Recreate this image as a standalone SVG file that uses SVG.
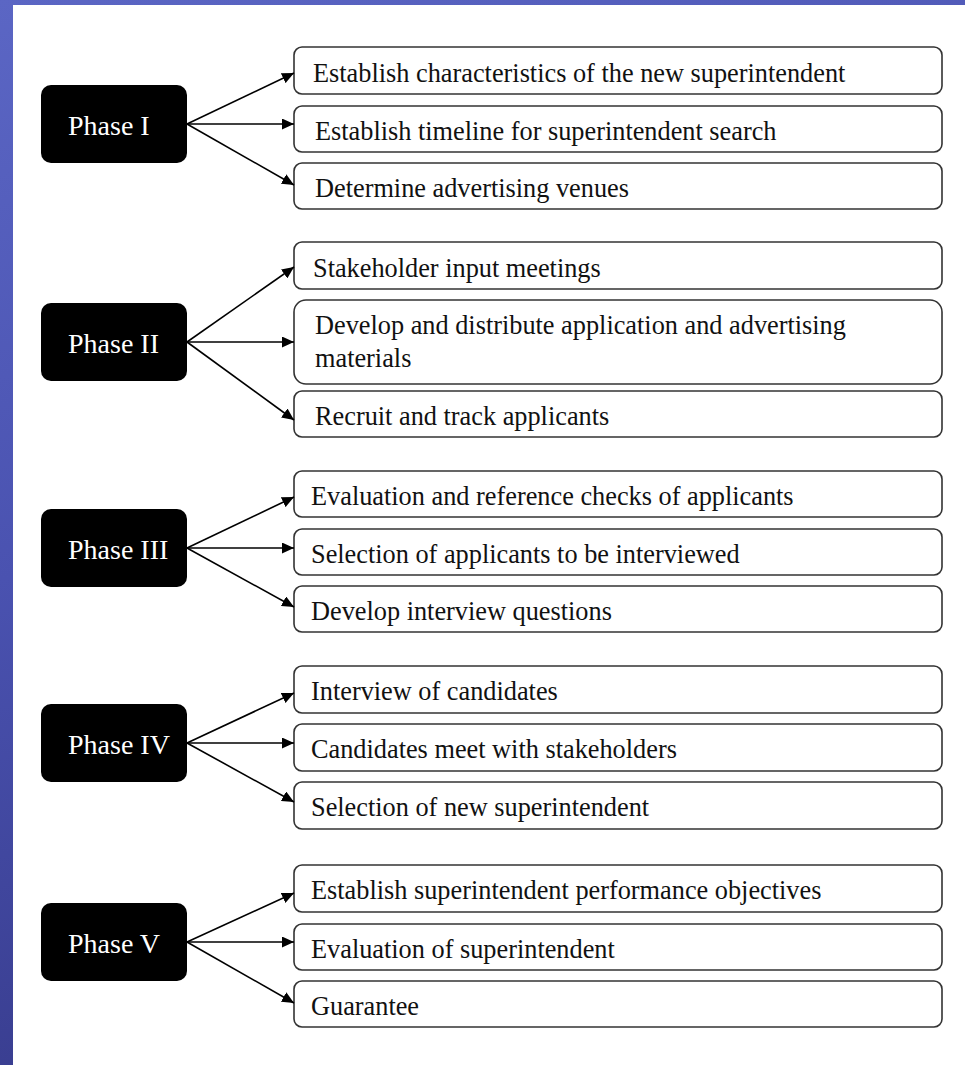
<svg xmlns="http://www.w3.org/2000/svg" width="965" height="1065" viewBox="0 0 965 1065">
<defs>
<linearGradient id="bg" x1="0" y1="0" x2="0.3" y2="1">
<stop offset="0" stop-color="#5b66c4"/>
<stop offset="0.5" stop-color="#4a52b0"/>
<stop offset="1" stop-color="#373b8c"/>
</linearGradient>
<marker id="ah" viewBox="0 0 10 10" refX="10" refY="5" markerWidth="12" markerHeight="11" markerUnits="userSpaceOnUse" orient="auto" preserveAspectRatio="none">
<path d="M0,0 L10,5 L0,10 z" fill="#000"/>
</marker>
<style>
.ph rect{fill:#000;}
.ph text{fill:#fff;font-family:"Liberation Serif","DejaVu Serif",serif;font-size:28px;}
.st rect{fill:#fff;stroke:#333;stroke-width:1.6;}
.st text{fill:#111;font-family:"Liberation Serif","DejaVu Serif",serif;font-size:26.3px;}
#connectors line{stroke:#000;stroke-width:1.6;marker-end:url(#ah);}
</style>
</defs>
<rect x="0" y="0" width="965" height="1065" fill="url(#bg)"/>
<rect x="13" y="5" width="952" height="1060" fill="#fff"/>

<g id="phase1" class="ph"><rect x="41" y="85" width="146" height="78" rx="10"/><text x="68" y="135">Phase I</text></g>
<g id="phase2" class="ph"><rect x="41" y="303" width="146" height="78" rx="10"/><text x="68" y="353">Phase II</text></g>
<g id="phase3" class="ph"><rect x="41" y="509" width="146" height="78" rx="10"/><text x="68" y="559">Phase III</text></g>
<g id="phase4" class="ph"><rect x="41" y="704" width="146" height="78" rx="10"/><text x="68" y="754">Phase IV</text></g>
<g id="phase5" class="ph"><rect x="41" y="903" width="146" height="78" rx="10"/><text x="68" y="953">Phase V</text></g>

<g id="s1a" class="st"><rect x="294" y="47" width="648" height="47" rx="8"/><text x="313" y="82">Establish characteristics of the new superintendent</text></g>
<g id="s1b" class="st"><rect x="294" y="106" width="648" height="46" rx="8"/><text x="315" y="140">Establish timeline for superintendent search</text></g>
<g id="s1c" class="st"><rect x="294" y="163" width="648" height="46" rx="8"/><text x="315" y="197">Determine advertising venues</text></g>

<g id="s2a" class="st"><rect x="294" y="242" width="648" height="47" rx="8"/><text x="313" y="277">Stakeholder input meetings</text></g>
<g id="s2b" class="st"><rect x="294" y="300" width="648" height="84" rx="12"/><text x="315" y="334">Develop and distribute application and advertising</text><text x="315" y="367">materials</text></g>
<g id="s2c" class="st"><rect x="294" y="391" width="648" height="46" rx="8"/><text x="315" y="425">Recruit and track applicants</text></g>

<g id="s3a" class="st"><rect x="294" y="471" width="648" height="46" rx="8"/><text x="311" y="505">Evaluation and reference checks of applicants</text></g>
<g id="s3b" class="st"><rect x="294" y="529" width="648" height="46" rx="8"/><text x="311" y="563">Selection of applicants to be interviewed</text></g>
<g id="s3c" class="st"><rect x="294" y="586" width="648" height="46" rx="8"/><text x="311" y="620">Develop interview questions</text></g>

<g id="s4a" class="st"><rect x="294" y="666" width="648" height="47" rx="8"/><text x="311" y="700">Interview of candidates</text></g>
<g id="s4b" class="st"><rect x="294" y="724" width="648" height="47" rx="8"/><text x="311" y="758">Candidates meet with stakeholders</text></g>
<g id="s4c" class="st"><rect x="294" y="782" width="648" height="47" rx="8"/><text x="311" y="816">Selection of new superintendent</text></g>

<g id="s5a" class="st"><rect x="294" y="865" width="648" height="47" rx="8"/><text x="311" y="899">Establish superintendent performance objectives</text></g>
<g id="s5b" class="st"><rect x="294" y="924" width="648" height="46" rx="8"/><text x="311" y="958">Evaluation of superintendent</text></g>
<g id="s5c" class="st"><rect x="294" y="981" width="648" height="46" rx="8"/><text x="311" y="1015">Guarantee</text></g>

<g id="connectors">
<line x1="187" y1="124" x2="294" y2="73"/>
<line x1="187" y1="124" x2="294" y2="124"/>
<line x1="187" y1="124" x2="294" y2="185"/>
<line x1="187" y1="342" x2="294" y2="267"/>
<line x1="187" y1="342" x2="294" y2="342"/>
<line x1="187" y1="342" x2="294" y2="420"/>
<line x1="187" y1="548" x2="294" y2="497"/>
<line x1="187" y1="548" x2="294" y2="548"/>
<line x1="187" y1="548" x2="294" y2="607"/>
<line x1="187" y1="743" x2="294" y2="693"/>
<line x1="187" y1="743" x2="294" y2="743"/>
<line x1="187" y1="743" x2="294" y2="802"/>
<line x1="187" y1="942" x2="294" y2="893"/>
<line x1="187" y1="942" x2="294" y2="942"/>
<line x1="187" y1="942" x2="294" y2="1003"/>
</g>
</svg>
